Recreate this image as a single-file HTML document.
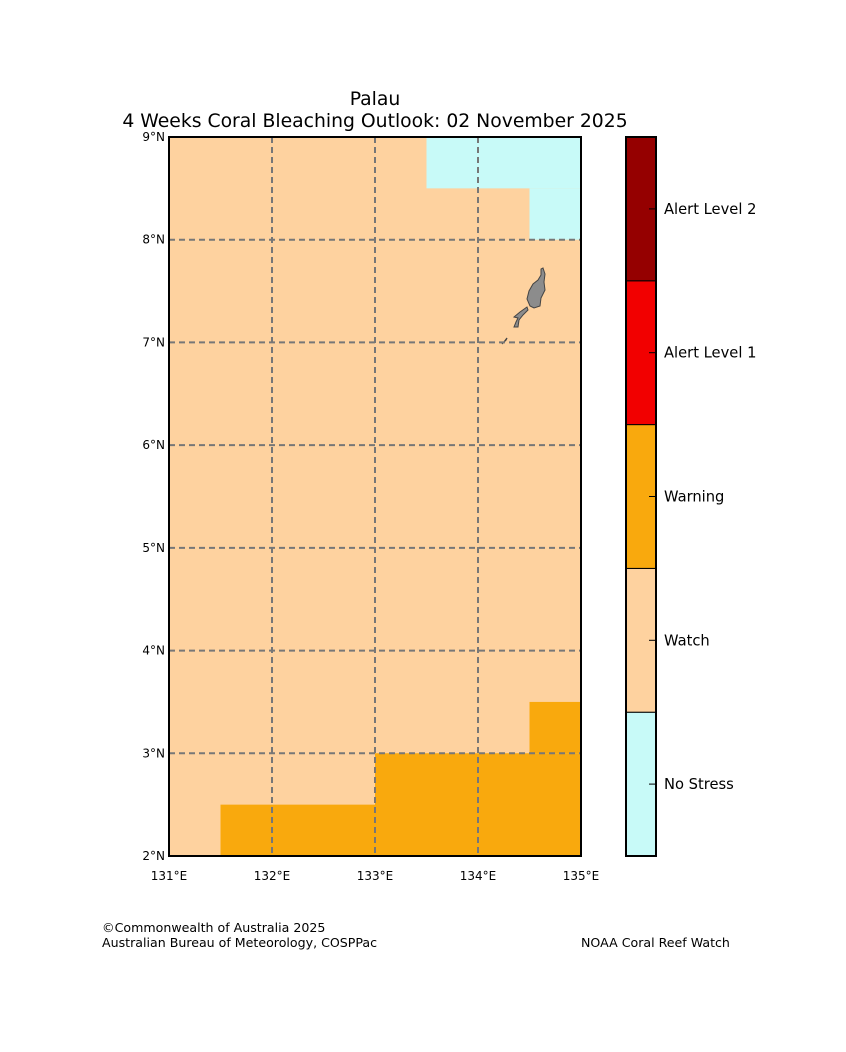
<!DOCTYPE html>
<html><head><meta charset="utf-8"><style>
body{margin:0;background:#fff;}
svg{display:block;font-family:"DejaVu Sans","Liberation Sans",sans-serif;}
</style></head><body>
<svg width="846" height="1052" viewBox="0 0 846 1052" id="chart">
<rect width="846" height="1052" fill="#fff"/>
<text x="375" y="105" font-size="18.8" text-anchor="middle">Palau</text>
<text x="375" y="127" font-size="18.8" text-anchor="middle">4 Weeks Coral Bleaching Outlook: 02 November 2025</text>
<g id="map"></g>
<g id="cbar"></g>
<text x="102" y="932" font-size="12.6">©Commonwealth of Australia 2025</text>
<text x="102" y="947" font-size="12.6">Australian Bureau of Meteorology, COSPPac</text>
<text x="581" y="947" font-size="12.6">NOAA Coral Reef Watch</text>
</svg>
<script>
const lonTicks=[131,132,133,134,135];
const latTicks=[2,3,4,5,6,7,8,9];
const levels=["No Stress","Watch","Warning","Alert Level 1","Alert Level 2"];
const levelColors=["#c8faf8","#fed29f","#f9a90d","#f20000","#950000"];
// cells: [lonMin, lonMax, latMin, latMax, level index]
const cellLon0=[133.5,134.5,131.5,133,134.5];
const cellLon1=[135,135,133,135,135];
const cellLat0=[8.5,8,2,2,3];
const cellLat1=[9,8.5,2.5,3,3.5];
const cellLevel=[0,0,2,2,2];
const X0=169,X1=581,Y0=856,Y1=137;
const sx=l=>X0+(l-131)/(135-131)*(X1-X0);
const sy=l=>Y0-(l-2)/(9-2)*(Y0-Y1);
const NS="http://www.w3.org/2000/svg";
function mk(tag,attrs,parent){const e=document.createElementNS(NS,tag);for(const k in attrs)e.setAttribute(k,attrs[k]);parent.appendChild(e);return e;}
const map=document.getElementById('map');
const bg=mk('rect',{x:X0,y:Y1,width:X1-X0,height:Y0-Y1,fill:levelColors[1]},map);


for(let i=0;i<cellLon0.length;i++){
 const r=mk('rect',{x:sx(cellLon0[i]),y:sy(cellLat1[i]),width:sx(cellLon1[i])-sx(cellLon0[i]),height:sy(cellLat0[i])-sy(cellLat1[i]),fill:levelColors[cellLevel[i]]},map);
 
 
}
const isl=mk('path',{d:"M543,268 L545,274 L544,282 L545,290 L541,298 L540,306 L534,308 L530,306 L527,299 L529,291 L533,284 L538,280 L541,275 L541,269 Z",fill:"#8c8c8c",stroke:"#444","stroke-width":1},map);


const isl2=mk('path',{d:"M527,307 L520,312 L514,317 L518,318 L516,322 L514,327 L518,327 L519,320 L523,315 L528,310 Z",fill:"#8c8c8c",stroke:"#444","stroke-width":1},map);


const isl3=mk('path',{d:"M502,344 L506,340 L507,338 L504,342 Z",fill:"#8c8c8c",stroke:"#444","stroke-width":1.2},map);


lonTicks.forEach(l=>{
 if(l>131&&l<135){const g=mk('line',{x1:sx(l),x2:sx(l),y1:Y1,y2:Y0,stroke:"#777","stroke-width":2,"stroke-dasharray":"6,4"},map);
 
 }
 const t=mk('text',{x:sx(l),y:880,"font-size":12,"text-anchor":"middle"},map);t.textContent=l+"°E";
 
 
});
latTicks.forEach(l=>{
 if(l>2&&l<9){const g=mk('line',{x1:X0,x2:X1,y1:sy(l),y2:sy(l),stroke:"#777","stroke-width":2,"stroke-dasharray":"6,4"},map);
 
 }
 const t=mk('text',{x:165,y:sy(l)+4,"font-size":12,"text-anchor":"end"},map);t.textContent=l+"°N";
 
 
});
const fr=mk('rect',{x:X0,y:Y1,width:X1-X0,height:Y0-Y1,fill:"none",stroke:"#000","stroke-width":2},map);


const cb=document.getElementById('cbar');
const CX=626,CW=30,segH=(Y0-Y1)/levels.length;
levels.forEach((lv,i)=>{
 const y=Y0-(i+1)*segH;
 const r=mk('rect',{x:CX,y:y,width:CW,height:segH,fill:levelColors[i],stroke:"#000","stroke-width":1},cb);
 
 
 const tk=mk('line',{x1:CX+CW-7,x2:CX+CW,y1:y+segH/2,y2:y+segH/2,stroke:"#000"},cb);
 
 
 const t=mk('text',{x:664,y:y+segH/2+5,"font-size":14.7},cb);t.textContent=lv;
 
 
});
const cf=mk('rect',{x:CX,y:Y1,width:CW,height:Y0-Y1,fill:"none",stroke:"#000","stroke-width":2},cb);


</script>
</body></html>
